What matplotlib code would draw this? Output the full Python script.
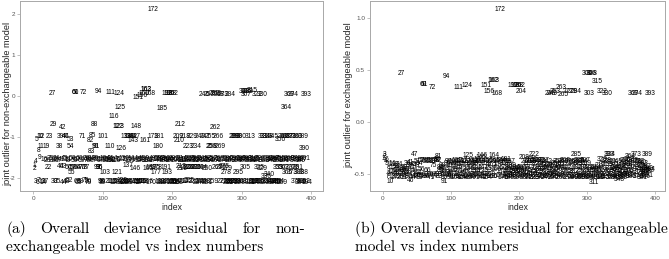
import matplotlib
matplotlib.use('Agg')
import matplotlib.pyplot as plt

plt.rcParams['axes.unicode_minus'] = False
plt.rcParams['font.family'] = ['Liberation Sans', 'DejaVu Sans']

# ---------------- Panel (a): non-exchangeable model ----------------
a_top = [(172, 2.10), (27, 0.05), (60, 0.08), (61, 0.08), (72, 0.08), (94, 0.12), (111, 0.09),
         (124, 0.05), (151, -0.03), (156, 0.02), (160, 0.05), (162, 0.17), (163, 0.17), (168, 0.05),
         (192, 0.05), (196, 0.05), (198, 0.05), (202, 0.05), (246, 0.03), (253, 0.04), (260, 0.06),
         (263, 0.05), (268, 0.04), (273, 0.03), (284, 0.03), (303, 0.10), (306, 0.10), (309, 0.11),
         (315, 0.14), (307, 0.03), (322, 0.03), (330, 0.03), (369, 0.04), (374, 0.04), (393, 0.04)]
a_mid = [(125, -0.27), (185, -0.30), (364, -0.27), (116, -0.50), (29, -0.70), (42, -0.76), (88, -0.70),
         (122, -0.75), (123, -0.75), (148, -0.75), (212, -0.70), (262, -0.76)]
a_row100 = [(5, -1.05), (10, -0.98), (12, -0.98), (23, -0.98), (39, -0.98), (46, -0.98), (47, -0.98),
            (53, -1.05), (71, -0.98), (82, -1.07), (85, -0.97), (101, -0.98), (133, -0.98), (138, -0.98),
            (140, -0.98), (142, -0.98), (147, -0.98), (143, -1.07), (173, -0.98), (181, -0.98), (161, -1.07),
            (209, -0.98), (210, -1.07), (218, -0.98), (229, -0.98), (240, -0.98), (247, -0.98), (255, -0.98),
            (266, -0.98), (289, -0.98), (290, -0.98), (293, -0.98), (300, -0.98), (313, -0.98), (331, -0.98),
            (334, -0.98), (338, -0.98), (345, -0.98), (356, -1.05), (360, -0.98), (363, -0.98), (367, -0.98),
            (371, -0.98), (376, -0.98), (380, -0.98), (389, -0.98)]
a_row125 = [(8, -1.32), (11, -1.24), (19, -1.24), (38, -1.24), (54, -1.24), (83, -1.35), (90, -1.22),
            (91, -1.22), (110, -1.23), (126, -1.27), (180, -1.24), (223, -1.24), (234, -1.24), (256, -1.24),
            (258, -1.24), (269, -1.24), (390, -1.28)]
a_row155 = [(4, -1.60), (9, -1.50), (16, -1.55), (20, -1.58), (25, -1.53), (28, -1.57), (32, -1.55),
            (34, -1.52), (37, -1.58), (41, -1.55), (45, -1.53), (49, -1.57), (51, -1.55), (56, -1.52),
            (59, -1.58), (62, -1.55), (66, -1.53), (69, -1.56), (74, -1.55), (76, -1.52), (78, -1.57),
            (81, -1.55), (84, -1.53), (87, -1.56), (89, -1.52), (92, -1.55), (97, -1.58), (100, -1.55),
            (104, -1.53), (106, -1.58), (108, -1.55), (112, -1.57), (114, -1.53), (117, -1.55), (119, -1.58),
            (127, -1.55), (130, -1.52), (135, -1.55), (139, -1.57), (144, -1.53), (149, -1.55), (153, -1.58),
            (157, -1.55), (159, -1.52), (164, -1.56), (167, -1.58), (171, -1.55), (174, -1.57), (176, -1.52),
            (179, -1.55), (183, -1.53), (186, -1.55), (188, -1.57), (190, -1.52), (194, -1.55), (197, -1.58),
            (200, -1.55), (203, -1.53), (206, -1.57), (211, -1.55), (214, -1.52), (216, -1.56), (219, -1.58),
            (221, -1.55), (226, -1.52), (228, -1.55), (231, -1.57), (233, -1.53), (236, -1.55), (238, -1.58),
            (242, -1.55), (245, -1.52), (249, -1.56), (252, -1.55), (254, -1.58), (257, -1.53), (261, -1.55),
            (264, -1.57), (267, -1.52), (271, -1.55), (274, -1.58), (277, -1.55), (280, -1.53), (283, -1.56),
            (287, -1.55), (291, -1.52), (294, -1.57), (297, -1.55), (299, -1.53), (302, -1.58), (304, -1.55),
            (308, -1.52), (311, -1.55), (314, -1.57), (317, -1.53), (319, -1.55), (321, -1.58), (324, -1.55),
            (327, -1.52), (332, -1.56), (335, -1.55), (339, -1.53), (342, -1.58), (344, -1.55), (347, -1.52),
            (350, -1.55), (352, -1.57), (355, -1.53), (358, -1.55), (361, -1.58), (366, -1.55), (368, -1.52),
            (372, -1.55), (377, -1.57), (379, -1.53), (382, -1.55), (385, -1.58), (387, -1.55), (391, -1.52)]
a_row175 = [(1, -1.70), (2, -1.77), (22, -1.74), (40, -1.72), (43, -1.72), (50, -1.74), (57, -1.73),
            (58, -1.75), (64, -1.74), (67, -1.73), (70, -1.74), (73, -1.73), (77, -1.74), (93, -1.74),
            (95, -1.73), (96, -1.74), (137, -1.69), (146, -1.77), (165, -1.77), (169, -1.75), (175, -1.74),
            (178, -1.74), (191, -1.74), (213, -1.72), (215, -1.77), (220, -1.74), (224, -1.73), (227, -1.74),
            (230, -1.73), (235, -1.74), (239, -1.73), (244, -1.73), (250, -1.76), (265, -1.74), (270, -1.73),
            (275, -1.72), (279, -1.76), (305, -1.74), (325, -1.74), (329, -1.77), (353, -1.74), (357, -1.74),
            (362, -1.73), (370, -1.74), (375, -1.74), (381, -1.73)]
a_row187 = [(55, -1.86), (103, -1.86), (121, -1.86), (177, -1.86), (193, -1.86), (278, -1.87), (295, -1.87),
            (336, -1.95), (340, -1.92), (365, -1.87), (373, -1.87), (383, -1.87), (388, -1.87)]
a_row208 = [(3, -2.08), (6, -2.10), (7, -2.06), (13, -2.08), (14, -2.11), (17, -2.07), (30, -2.09),
            (35, -2.07), (44, -2.10), (48, -2.08), (52, -2.06), (63, -2.09), (65, -2.11), (68, -2.07),
            (75, -2.06), (79, -2.10), (80, -2.08), (98, -2.07), (99, -2.10), (102, -2.08), (113, -2.09),
            (115, -2.07), (118, -2.10), (120, -2.08), (128, -2.06), (129, -2.10), (131, -2.08), (132, -2.11),
            (134, -2.07), (136, -2.09), (141, -2.08), (145, -2.10), (150, -2.07), (152, -2.09), (154, -2.11),
            (155, -2.07), (158, -2.09), (166, -2.08), (170, -2.10), (182, -2.07), (184, -2.10), (187, -2.08),
            (189, -2.11), (195, -2.07), (199, -2.09), (201, -2.10), (204, -2.07), (205, -2.11), (207, -2.08),
            (208, -2.10), (217, -2.07), (222, -2.09), (225, -2.06), (232, -2.08), (237, -2.10), (241, -2.07),
            (243, -2.09), (248, -2.08), (251, -2.10), (259, -2.07), (272, -2.09), (276, -2.08), (281, -2.10),
            (282, -2.07), (285, -2.09), (286, -2.11), (288, -2.07), (292, -2.09), (296, -2.08), (298, -2.10),
            (301, -2.07), (310, -2.09), (312, -2.11), (316, -2.08), (318, -2.07), (320, -2.10), (323, -2.08),
            (326, -2.09), (328, -2.07), (333, -2.10), (337, -2.08), (341, -2.09), (343, -2.07), (346, -2.10),
            (348, -2.08), (349, -2.11), (351, -2.07), (354, -2.09), (359, -2.10), (378, -2.08), (384, -2.10),
            (386, -2.07), (392, -2.09), (394, -2.11)]

# ---------------- Panel (b): exchangeable model ----------------
b_top = [(172, 1.08), (27, 0.47), (60, 0.36), (61, 0.36), (72, 0.33), (94, 0.44), (111, 0.33), (124, 0.35),
         (151, 0.35), (156, 0.29), (162, 0.40), (163, 0.40), (168, 0.27), (192, 0.35), (196, 0.35), (198, 0.35),
         (202, 0.35), (204, 0.29), (246, 0.27), (249, 0.27), (253, 0.29), (263, 0.33), (265, 0.26), (272, 0.29),
         (279, 0.29), (284, 0.29), (300, 0.47), (306, 0.47), (308, 0.47), (315, 0.39), (303, 0.27), (322, 0.29),
         (330, 0.27), (369, 0.27), (374, 0.27), (393, 0.27)]
b_band1 = [(1, -0.35), (2, -0.33), (3, -0.31), (4, -0.38), (5, -0.40), (6, -0.36), (7, -0.52), (8, -0.50),
           (9, -0.46), (10, -0.57), (11, -0.41), (12, -0.48), (13, -0.52), (14, -0.40), (15, -0.44), (16, -0.49),
           (17, -0.53), (18, -0.41), (19, -0.47), (20, -0.50), (21, -0.43), (22, -0.52), (23, -0.46), (24, -0.41),
           (25, -0.49), (26, -0.53), (28, -0.45), (29, -0.50), (30, -0.47), (31, -0.53), (32, -0.44), (33, -0.49),
           (34, -0.51), (35, -0.46), (36, -0.40), (37, -0.52), (38, -0.48), (39, -0.42), (40, -0.56), (41, -0.39),
           (42, -0.44), (43, -0.50), (44, -0.53), (45, -0.41), (46, -0.47), (47, -0.31), (48, -0.52), (49, -0.42),
           (50, -0.51), (51, -0.38), (52, -0.49), (53, -0.53), (54, -0.40), (55, -0.51), (56, -0.46), (57, -0.37),
           (58, -0.52), (59, -0.37), (62, -0.50), (63, -0.38), (64, -0.52), (65, -0.37), (66, -0.47), (67, -0.52),
           (68, -0.38), (69, -0.50), (70, -0.37), (71, -0.53), (73, -0.38), (74, -0.51), (75, -0.42), (76, -0.37),
           (77, -0.52), (78, -0.37), (79, -0.50), (80, -0.36), (81, -0.33), (82, -0.37), (83, -0.52), (84, -0.44),
           (85, -0.47), (86, -0.50), (87, -0.45), (88, -0.42), (89, -0.48), (90, -0.53), (91, -0.57), (92, -0.50),
           (93, -0.45), (95, -0.40), (96, -0.51), (97, -0.38), (98, -0.49), (99, -0.53), (100, -0.42)]
b_band2 = [(101, -0.39), (102, -0.50), (103, -0.46), (104, -0.38), (105, -0.52), (106, -0.40), (107, -0.47),
           (108, -0.53), (109, -0.37), (110, -0.44), (112, -0.50), (113, -0.38), (114, -0.52), (115, -0.41),
           (116, -0.48), (117, -0.37), (118, -0.53), (119, -0.40), (120, -0.46), (121, -0.50), (122, -0.38),
           (123, -0.52), (125, -0.32), (126, -0.45), (127, -0.38), (128, -0.51), (129, -0.40), (130, -0.53),
           (131, -0.44), (132, -0.37), (133, -0.50), (134, -0.39), (135, -0.47), (136, -0.52), (137, -0.38),
           (138, -0.45), (139, -0.40), (140, -0.51), (141, -0.36), (142, -0.48), (143, -0.38), (144, -0.53),
           (145, -0.34), (146, -0.32), (147, -0.44), (148, -0.50), (149, -0.38), (150, -0.52), (152, -0.40),
           (153, -0.47), (154, -0.53), (155, -0.37), (157, -0.45), (158, -0.50), (159, -0.38), (160, -0.52),
           (161, -0.41), (164, -0.32), (165, -0.37), (166, -0.46), (167, -0.52), (169, -0.38), (170, -0.45),
           (171, -0.40), (173, -0.51), (174, -0.37), (175, -0.48), (176, -0.53), (177, -0.39), (178, -0.44),
           (179, -0.38), (180, -0.52), (181, -0.36), (182, -0.47), (183, -0.40), (184, -0.50), (185, -0.53),
           (186, -0.45), (187, -0.38), (188, -0.51), (189, -0.42), (190, -0.47), (191, -0.52), (193, -0.48),
           (194, -0.44), (195, -0.51), (197, -0.46), (199, -0.53), (200, -0.48)]
b_band3 = [(201, -0.45), (203, -0.50), (205, -0.44), (206, -0.52), (207, -0.47), (208, -0.34), (209, -0.51),
           (210, -0.38), (211, -0.46), (212, -0.53), (213, -0.40), (214, -0.49), (215, -0.37), (216, -0.52),
           (217, -0.44), (218, -0.38), (219, -0.50), (220, -0.36), (221, -0.47), (222, -0.31), (223, -0.53),
           (224, -0.38), (225, -0.45), (226, -0.51), (227, -0.37), (228, -0.48), (229, -0.40), (230, -0.53),
           (231, -0.37), (232, -0.46), (233, -0.51), (234, -0.39), (235, -0.44), (236, -0.52), (237, -0.37),
           (238, -0.49), (239, -0.42), (240, -0.53), (241, -0.45), (242, -0.38), (243, -0.50), (244, -0.44),
           (245, -0.52), (247, -0.41), (248, -0.49), (250, -0.53), (251, -0.42), (252, -0.47), (254, -0.51),
           (255, -0.40), (256, -0.46), (257, -0.52), (258, -0.38), (259, -0.45), (260, -0.50), (261, -0.41),
           (262, -0.53), (264, -0.44), (266, -0.38), (267, -0.51), (268, -0.37), (269, -0.47), (270, -0.52),
           (271, -0.40), (273, -0.48), (274, -0.53), (275, -0.38), (276, -0.45), (277, -0.51), (278, -0.40),
           (280, -0.53), (281, -0.39), (282, -0.48), (283, -0.52), (285, -0.31), (286, -0.44), (287, -0.38),
           (288, -0.51), (289, -0.37), (290, -0.53), (291, -0.40), (292, -0.47), (293, -0.52), (294, -0.38),
           (295, -0.44), (296, -0.53), (297, -0.37), (298, -0.49), (299, -0.40)]
b_band4 = [(301, -0.51), (302, -0.44), (304, -0.53), (305, -0.47), (307, -0.52), (309, -0.45), (310, -0.50),
           (311, -0.58), (312, -0.47), (313, -0.53), (314, -0.44), (316, -0.51), (317, -0.46), (318, -0.53),
           (319, -0.42), (320, -0.48), (321, -0.52), (323, -0.36), (324, -0.47), (325, -0.53), (326, -0.41),
           (327, -0.50), (328, -0.37), (329, -0.52), (331, -0.45), (332, -0.38), (333, -0.31), (334, -0.31),
           (335, -0.48), (336, -0.53), (337, -0.39), (338, -0.50), (339, -0.45), (340, -0.52), (341, -0.41),
           (342, -0.47), (343, -0.53), (344, -0.44), (345, -0.38), (346, -0.51), (347, -0.46), (348, -0.55),
           (349, -0.42), (350, -0.50), (351, -0.47), (352, -0.53), (353, -0.40), (354, -0.48), (355, -0.52),
           (356, -0.37), (357, -0.45), (358, -0.51), (359, -0.43), (360, -0.39), (361, -0.50), (362, -0.36),
           (363, -0.47), (364, -0.33), (365, -0.52), (366, -0.41), (367, -0.48), (368, -0.37), (370, -0.44),
           (371, -0.51), (372, -0.38), (373, -0.31), (375, -0.46), (376, -0.52), (377, -0.38), (378, -0.49),
           (379, -0.42), (380, -0.39), (381, -0.53), (382, -0.45), (383, -0.40), (384, -0.50), (385, -0.47),
           (386, -0.52), (387, -0.43), (388, -0.48), (389, -0.31), (390, -0.45), (391, -0.51), (392, -0.47),
           (394, -0.46)]

a_yticks = [-2, -1, 0, 1, 2]
a_yticklabels = ['-2', '-1', '0', '1', '2']
b_yticks = [-0.5, 0.0, 0.5, 1.0]
b_yticklabels = ['-0.5', '0.0', '0.5', '1.0']
x_ticks = [0, 100, 200, 300, 400]
x_ticklabels = ['0', '100', '200', '300', '400']

a_ylabel = 'joint outlier for non-exchangeable model'
b_ylabel = 'joint outlier for exchangeable model'
xlabel = 'index'
cap_a1 = ['(a)', 'Overall', 'deviance', 'residual', 'for', 'non-']
cap_a2 = 'exchangeable model vs index numbers'
cap_b1 = '(b) Overall deviance residual for exchangeable'
cap_b2 = 'model vs index numbers'

W, H = 669, 259
fig = plt.figure(figsize=(W / 100, H / 100), dpi=100)


def px_axes(l, t, r, b):
    return fig.add_axes([l / W, 1 - b / H, (r - l) / W, (b - t) / H])


def style(ax, xlim, ylim, yticks, yticklabels):
    ax.set_xlim(*xlim)
    ax.set_ylim(*ylim)
    ax.set_xticks(x_ticks)
    ax.set_xticklabels(x_ticklabels)
    ax.set_yticks(yticks)
    ax.set_yticklabels(yticklabels)
    for s in ax.spines.values():
        s.set_color('#a8a8a8')
        s.set_linewidth(0.7)
    ax.tick_params(length=2, width=0.5, color='#a8a8a8', labelsize=4.6,
                   labelcolor='#555555', pad=1.5)
    ax.set_xlabel(xlabel, fontsize=6.2, color='#222222', labelpad=1.5)


def draw(ax, groups):
    for g in groups:
        for lab, v in g:
            ax.text(lab, v, str(lab), ha='center', va='center', fontsize=4.8, color='black')


ax_a = px_axes(20, 1, 323, 191)
style(ax_a, (-19, 417), (-2.31, 2.31), a_yticks, a_yticklabels)
draw(ax_a, [a_top, a_mid, a_row100, a_row125, a_row155, a_row175, a_row187, a_row208])

ax_b = px_axes(370, 1, 665, 191)
style(ax_b, (-19, 415), (-0.663, 1.163), b_yticks, b_yticklabels)
draw(ax_b, [b_top, b_band1, b_band2, b_band3, b_band4])

fig.canvas.draw()
r = fig.canvas.get_renderer()

# y-axis titles placed in pixel positions, sized to the reference length
probe = fig.text(0, 0, a_ylabel, fontsize=10)
wa = probe.get_window_extent(r).width
probe.remove()
yl_fs = 10 * 163 / wa
fig.text(7.5 / W, 1 - 104 / H, a_ylabel, fontsize=yl_fs, rotation=90, ha='center', va='center',
         color='#222222')
fig.text(349 / W, 1 - 95 / H, b_ylabel, fontsize=yl_fs, rotation=90, ha='center', va='center',
         color='#222222')

# ---------------- captions (LaTeX-like serif) ----------------
serif = ['cmr10', 'DejaVu Serif']
probe = fig.text(0, 0, cap_b1, fontsize=10, family=serif)
wb = probe.get_window_extent(r).width
probe.remove()
fs = 10 * 312 / wb

base1 = 1 - 233 / H
base2 = 1 - 251 / H

# justified first line of caption (a)
x0, x1 = 6, 305
texts = [fig.text(0, base1, w, fontsize=fs, family=serif, va='baseline') for w in cap_a1]
widths = [t.get_window_extent(r).width for t in texts]
gap = (x1 - x0 - sum(widths)) / (len(texts) - 1)
x = x0
for t, w in zip(texts, widths):
    t.set_x(x / W)
    x += w + gap
fig.text(x0 / W, base2, cap_a2, fontsize=fs, family=serif, va='baseline')
fig.text(355 / W, base1, cap_b1, fontsize=fs, family=serif, va='baseline')
fig.text(355 / W, base2, cap_b2, fontsize=fs, family=serif, va='baseline')

fig.savefig('out.png', dpi=100)
